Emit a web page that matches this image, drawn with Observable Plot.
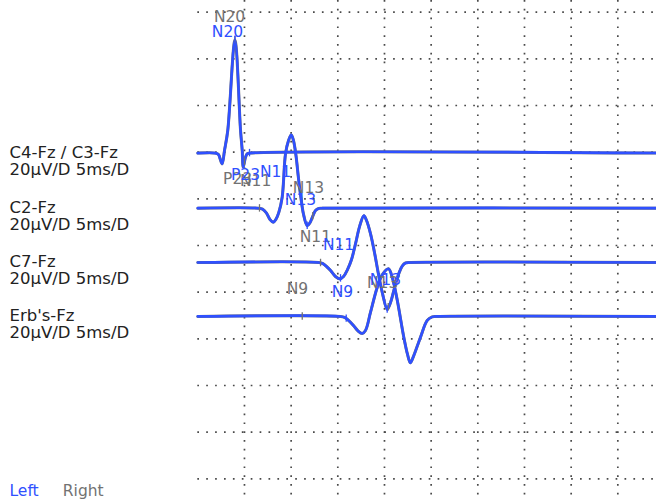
<!DOCTYPE html>
<html>
<head>
<meta charset="utf-8">
<script src="https://cdn.jsdelivr.net/npm/d3@7"></script>
<script src="https://cdn.jsdelivr.net/npm/@observablehq/plot@0.6"></script>
<style>
  html, body { margin: 0; padding: 0; background: #fff; overflow: hidden; }
</style>
</head>
<body>
<div id="chart"></div>
<script>
// ---- Data ----
const channelNames = ["C4-Fz / C3-Fz", "C2-Fz", "C7-Fz", "Erb's-Fz"];
const channelScales = ["20µV/D 5ms/D", "20µV/D 5ms/D", "20µV/D 5ms/D", "20µV/D 5ms/D"];
// baseline level of each channel (µV on the screen grid)
const channelOffsets = [39.6, 16.0, -7.3, -30.4];

const sides = ["Left", "Right"];

// waveforms: [ms, µV relative to baseline]
const waveC4 = [
  [0, 0], [1.9, 0], [2.22, -0.6], [2.38, -2.3], [2.61, -4.6], [2.86, 1.1], [3.21, 9.7],
  [3.98, 48.5], [4.58, 9.7], [4.76, 1.1], [4.86, -6.0], [5.11, -1.8], [5.29, -0.3],
  [5.54, 0], [50, 0]
];
const waveC2 = [
  [0, 0], [6.5, 0], [6.93, -0.4], [7.36, -2.1], [7.74, -4.9], [8.08, -6.0], [8.38, -4.7],
  [8.68, -1.8], [9.04, 4.7], [9.40, 23.4], [9.72, 29.0], [10.01, 31.5], [10.25, 29.0],
  [10.52, 22.5], [10.79, 12.7], [11.06, 4.1], [11.33, -2.7], [11.72, -7.5], [12.02, -6.2],
  [12.28, -3.8], [12.61, -1.0], [12.96, -0.1], [13.36, 0], [50, 0]
];
const waveC7 = [
  [0, 0], [12.93, 0], [13.36, -0.4], [13.79, -1.7], [14.22, -3.4], [14.75, -6.0], [15.21, -7.0],
  [15.61, -6.0], [16.04, -3.0], [16.47, 1.3], [16.90, 8.1], [17.33, 15.4], [17.79, 20.1],
  [18.08, 18.0], [18.50, 12.4], [18.93, 4.3], [19.36, -5.1], [19.79, -13.3], [20.29, -20.1],
  [20.65, -17.1], [21.0, -12.0], [21.29, -7.7], [21.54, -4.7], [21.90, -1.5], [22.26, -0.2],
  [22.79, 0], [50, 0]
];
const waveErb = [
  [0, 0], [15.29, 0], [15.72, -0.4], [16.15, -1.7], [16.68, -3.9], [17.16, -6.2], [17.61, -7.3],
  [17.97, -6.0], [18.50, 1.7], [19.22, 12.4], [19.79, 18.0], [20.43, 20.4], [20.86, 16.3],
  [21.37, 6.9], [22.07, -8.9], [22.47, -16.3], [22.77, -19.9], [23.11, -17.1], [23.86, -8.9],
  [24.58, -1.7], [25.11, -0.2], [25.58, 0], [50, 0]
];
const leftWaves = [waveC4, waveC2, waveC7, waveErb];
const rightWaves = [waveC4, waveC2, waveC7, waveErb]; // right traces lie under the left ones

// peak markers: channel, name, latency (ms), label position (ms, µV relative to baseline)
const leftMarkers = [
  {ch: 0, name: "N20", ms: 3.98, labelMs: 3.18, labelUv: 51.9},
  {ch: 0, name: "P23", ms: 5.54, labelMs: 5.11, labelUv: -9.2},
  {ch: 1, name: "N11", ms: 9.0, labelMs: 8.33, labelUv: 15.7},
  {ch: 1, name: "N13", ms: 11.72, labelMs: 11.0, labelUv: 3.7},
  {ch: 2, name: "N11", ms: 15.29, labelMs: 15.08, labelUv: 7.3},
  {ch: 2, name: "N13", ms: 20.29, labelMs: 20.1, labelUv: -7.3},
  {ch: 3, name: "N9", ms: 15.9, labelMs: 15.5, labelUv: 10.3}
];
const rightMarkers = [
  {ch: 0, name: "N20", ms: 3.98, labelMs: 3.40, labelUv: 58.5},
  {ch: 0, name: "P23", ms: 5.0, labelMs: 4.26, labelUv: -11.3},
  {ch: 1, name: "N11", ms: 6.61, labelMs: 6.2, labelUv: 11.8},
  {ch: 1, name: "N13", ms: 12.32, labelMs: 11.86, labelUv: 8.8},
  {ch: 2, name: "N11", ms: 13.15, labelMs: 12.6, labelUv: 11.1},
  {ch: 2, name: "N13", ms: 20.4, labelMs: 19.8, labelUv: -8.6},
  {ch: 3, name: "N9", ms: 11.19, labelMs: 10.68, labelUv: 11.6}
];

// grid (5 ms / 20 µV per division)
const gridMs = [5, 10, 15, 20, 25, 30, 35, 40, 45, 50];
const gridUv = [-100, -80, -60, -40, -20, 0, 20, 40, 60, 80, 100];

// ---- Styles ----
const BLUE = "#2f50ff";
const GRAY = "#727272";
const sideColor = {Left: BLUE, Right: GRAY};

function valueAt(wave, ms) {
  const i = d3.bisector(d => d[0]).right(wave, ms);
  if (i <= 0) return wave[0][1];
  if (i >= wave.length) return wave[wave.length - 1][1];
  const a = wave[i - 1], b = wave[i];
  const t = (ms - a[0]) / (b[0] - a[0]);
  return a[1] + t * (b[1] - a[1]);
}

function traceRows(waves, side) {
  const rows = [];
  waves.forEach((w, ch) => w.forEach(p => rows.push({side, ch, ms: p[0], v: p[1] + channelOffsets[ch]})));
  return rows;
}
function markerRows(markers, waves, side) {
  return markers.map(m => ({
    ...m, side,
    base: channelOffsets[m.ch] + valueAt(waves[m.ch], m.ms),
    ly: channelOffsets[m.ch] + m.labelUv
  }));
}

const rightRows = traceRows(rightWaves, "Right");
const leftRows = traceRows(leftWaves, "Left");
const rightM = markerRows(rightMarkers, rightWaves, "Right");
const leftM = markerRows(leftMarkers, leftWaves, "Left");

const channels = channelNames.map((n, i) => ({name: n, scale: channelScales[i], off: channelOffsets[i]}));

const chart = Plot.plot({
  width: 656,
  height: 501,
  marginLeft: 197.3,
  marginRight: 0,
  marginTop: 0,
  marginBottom: 0,
  x: {domain: [0, 50], range: [197.3, 664], axis: null},
  y: {domain: [-100, 100], range: [478.3, 11.7], axis: null},
  style: {fontFamily: "DejaVu Sans", background: "white", overflow: "hidden"},
  marks: [
    Plot.ruleX(gridMs, {x: d => d, stroke: "#4a4a4a", strokeWidth: 1.7, strokeDasharray: "1.7,7.1"}),
    Plot.ruleY(gridUv, {y: d => d, stroke: "#4a4a4a", strokeWidth: 1.7, strokeDasharray: "1.7,7.2"}),
    Plot.line(rightRows, {x: "ms", y: "v", z: "ch", stroke: GRAY, strokeWidth: 3.0, curve: "catmull-rom"}),
    Plot.line(leftRows, {x: "ms", y: "v", z: "ch", stroke: BLUE, strokeWidth: 2.6, curve: "catmull-rom"}),
    Plot.ruleX(rightM, {x: "ms", y1: d => d.base - 1.6, y2: d => d.base + 1.6, stroke: GRAY, strokeWidth: 1.3}),
    Plot.ruleX(leftM, {x: "ms", y1: d => d.base - 1.6, y2: d => d.base + 1.6, stroke: BLUE, strokeWidth: 1.3}),
    Plot.text(rightM, {x: "labelMs", y: "ly", text: "name", fill: GRAY, fontSize: 15.5}),
    Plot.text(leftM, {x: "labelMs", y: "ly", text: "name", fill: BLUE, fontSize: 15.5}),
    Plot.text(channels, {
      y: "off", text: d => d.name + "\n" + d.scale, frameAnchor: "left",
      dx: 9 - 197.3, dy: -7.6, textAnchor: "start", lineAnchor: "top", lineHeight: 1.04,
      fontSize: 16.5, fill: "#222"
    }),
    Plot.text([sides[0]], {text: d => d, frameAnchor: "bottom-left", dx: 9 - 197.3, dy: -16.5,
      textAnchor: "start", lineAnchor: "top", fontSize: 15.5, fill: sideColor[sides[0]]}),
    Plot.text([sides[1]], {text: d => d, frameAnchor: "bottom-left", dx: 62.3 - 197.3, dy: -16.5,
      textAnchor: "start", lineAnchor: "top", fontSize: 15.5, fill: sideColor[sides[1]]})
  ]
});
document.getElementById("chart").appendChild(chart);
</script>
</body>
</html>
